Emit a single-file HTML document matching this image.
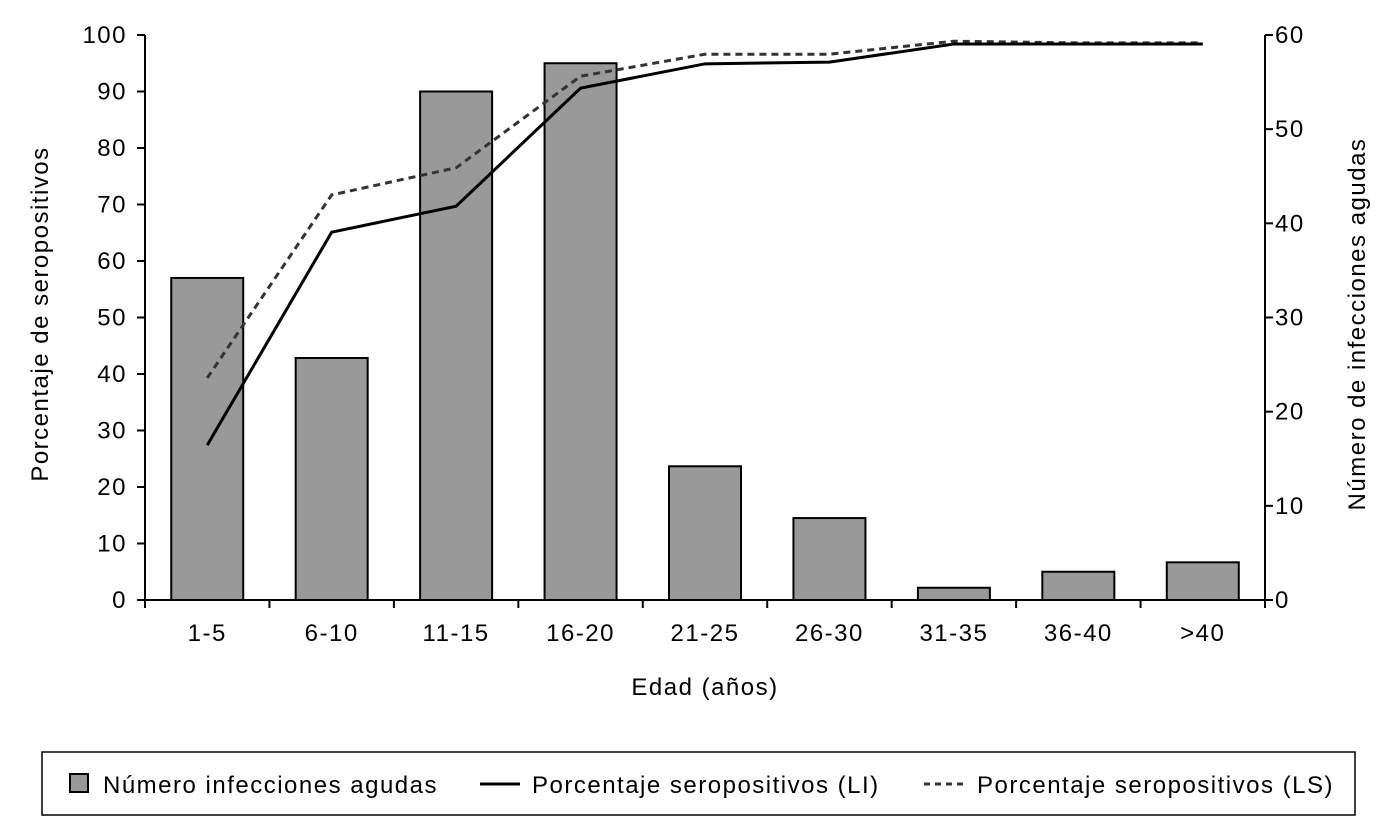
<!DOCTYPE html>
<html><head><meta charset="utf-8"><style>
html,body{margin:0;padding:0;background:#fff;}
svg{display:block;font-family:"Liberation Sans",sans-serif;}
text{letter-spacing:1.5px;}
</style></head><body>
<svg id="chart" width="1400" height="832" viewBox="0 0 1400 832" xmlns="http://www.w3.org/2000/svg">
<g id="bars"></g>
<g id="lines"></g>
<g id="axes"></g>
<text transform="translate(48,314) rotate(-90)" text-anchor="middle" font-size="24">Porcentaje de seropositivos</text>
<text transform="translate(1365,324) rotate(-90)" text-anchor="middle" font-size="24">Número de infecciones agudas</text>
<text x="705" y="695" text-anchor="middle" font-size="24">Edad (años)</text>
<g>
<rect x="42" y="752" width="1313" height="63" fill="#fff" stroke="#000" stroke-width="1.5"/>
<g>
<rect x="70" y="774" width="18" height="18" fill="#999" stroke="#000" stroke-width="2"/>
<text x="103" y="793" font-size="24">Número infecciones agudas</text></g>
<g>
<line x1="480" y1="784" x2="520" y2="784" stroke="#000" stroke-width="3"/>
<text x="532" y="793" font-size="24">Porcentaje seropositivos (LI)</text></g>
<g>
<line x1="924" y1="784" x2="964" y2="784" stroke="#333" stroke-width="3" stroke-dasharray="6,5"/>
<text x="977" y="793" font-size="24">Porcentaje seropositivos (LS)</text></g>
</g>
</svg>
<script>
const categories=["1-5","6-10","11-15","16-20","21-25","26-30","31-35","36-40",">40"];
const infecciones=[34.2,25.7,54,57,14.2,8.7,1.3,3,4];
const seroLI=[27.4,65.1,69.7,90.6,94.9,95.2,98.4,98.4,98.4];
const seroLS=[39.3,71.7,76.5,92.7,96.6,96.6,98.9,98.6,98.6];
const leftTicks=[0,10,20,30,40,50,60,70,80,90,100];
const rightTicks=[0,10,20,30,40,50,60];
const NS="http://www.w3.org/2000/svg";
const X0=145,X1=1265,Y0=600,Y1=35;
const bw=(X1-X0)/categories.length;
const xc=i=>X0+bw*(i+0.5);
const yL=v=>Y0-(Y0-Y1)*v/100;
const yR=v=>Y0-(Y0-Y1)*v/60;
function mk(tag,attrs,parent){const e=document.createElementNS(NS,tag);for(const k in attrs)e.setAttribute(k,attrs[k]);parent.appendChild(e);return e;}
const gb=document.getElementById('bars'),gl=document.getElementById('lines'),ga=document.getElementById('axes');
infecciones.forEach((v,i)=>{
 const r=mk('rect',{x:xc(i)-36,y:yR(v),width:72,height:Y0-yR(v),fill:'#999',stroke:'#000','stroke-width':2},gb);
 
 
});
function line(vals,style,name){
 const p=mk('polyline',Object.assign({points:vals.map((v,i)=>xc(i)+','+yL(v)).join(' '),fill:'none'},style),gl);
 
 
}
line(seroLS,{stroke:'#333','stroke-width':3,'stroke-dasharray':'7,5'},'line-ls');
line(seroLI,{stroke:'#000','stroke-width':3},'line-li');
mk('line',{x1:X0,y1:Y1,x2:X0,y2:Y0,stroke:'#000','stroke-width':2},ga);
mk('line',{x1:X1,y1:Y1,x2:X1,y2:Y0,stroke:'#000','stroke-width':2},ga);
mk('line',{x1:X0,y1:Y0,x2:X1,y2:Y0,stroke:'#000','stroke-width':2},ga);
leftTicks.forEach(v=>{
 mk('line',{x1:X0-8,y1:yL(v),x2:X0,y2:yL(v),stroke:'#000','stroke-width':2},ga);
 const t=mk('text',{x:X0-18,y:yL(v)+8,'text-anchor':'end','font-size':24},ga);t.textContent=v;
 
 
});
rightTicks.forEach(v=>{
 mk('line',{x1:X1,y1:yR(v),x2:X1+8,y2:yR(v),stroke:'#000','stroke-width':2},ga);
 const t=mk('text',{x:X1+10,y:yR(v)+8,'font-size':24},ga);t.textContent=v;
 
 
});
for(let i=0;i<=categories.length;i++)mk('line',{x1:X0+bw*i,y1:Y0,x2:X0+bw*i,y2:Y0+8,stroke:'#000','stroke-width':2},ga);
categories.forEach((c,i)=>{
 const t=mk('text',{x:xc(i),y:Y0+41,'text-anchor':'middle','font-size':24},ga);t.textContent=c;
 
 
});
</script>
</body></html>
